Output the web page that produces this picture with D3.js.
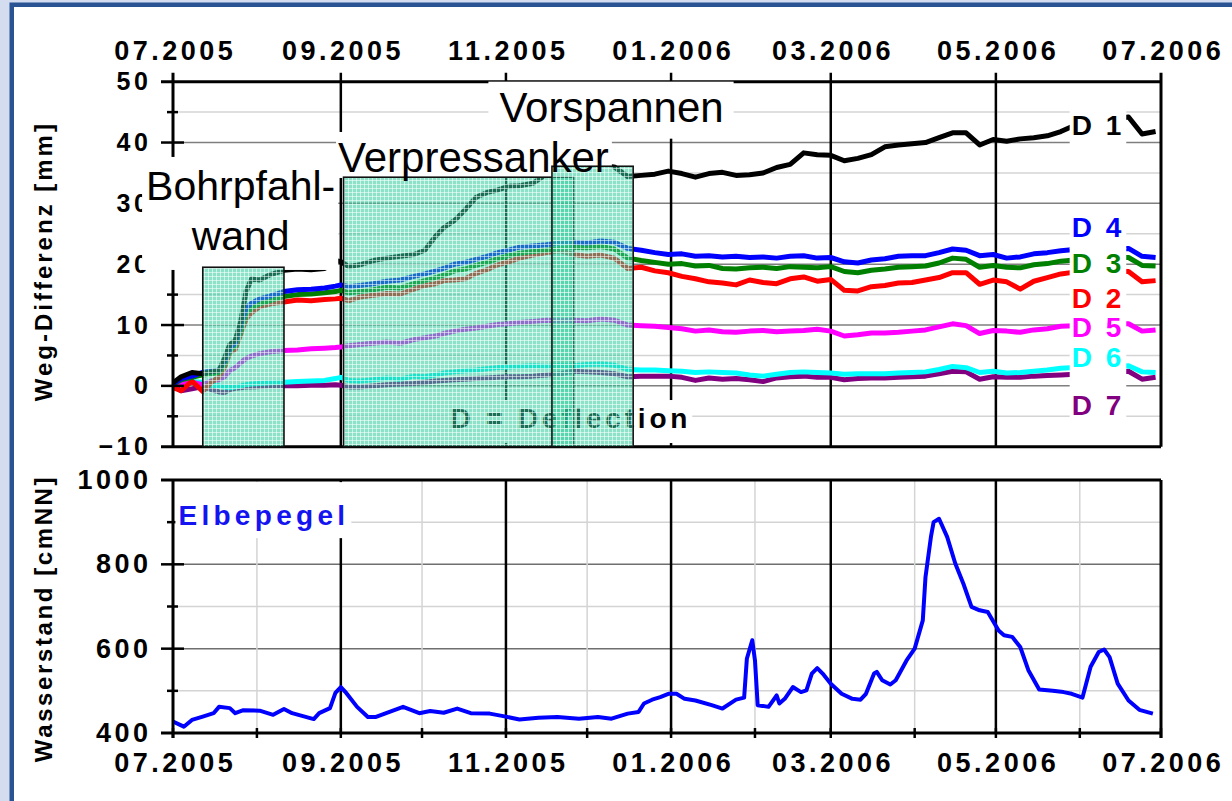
<!DOCTYPE html>
<html>
<head>
<meta charset="utf-8">
<script src="https://cdn.jsdelivr.net/npm/d3@7"></script>
<style>
  body { margin: 0; background: #d3ddef; }
  svg { display: block; }
</style>
</head>
<body>
<svg id="chart" width="1232" height="801"></svg>
<script>
// ---- data ----
const tickLabels = ["07.2005", "09.2005", "11.2005", "01.2006", "03.2006", "05.2006", "07.2006"];

// measurement dates of the deflection series
const messDates = [
  "2005-07-01","2005-07-04","2005-07-08","2005-07-12","2005-07-15","2005-07-18","2005-07-20","2005-07-22","2005-07-24","2005-07-26","2005-07-28","2005-07-30",
  "2005-08-02","2005-08-06","2005-08-11","2005-08-16","2005-08-21","2005-08-26","2005-08-30",
  "2005-09-01","2005-09-04","2005-09-08","2005-09-13","2005-09-18","2005-09-23","2005-09-28",
  "2005-10-02","2005-10-06","2005-10-09","2005-10-13","2005-10-17","2005-10-21","2005-10-25","2005-10-29",
  "2005-11-02","2005-11-06","2005-11-11","2005-11-16","2005-11-21","2005-11-26",
  "2005-12-01","2005-12-06","2005-12-11","2005-12-16","2005-12-21","2005-12-26","2005-12-31",
  "2006-01-05","2006-01-10","2006-01-15","2006-01-20","2006-01-25","2006-01-30",
  "2006-02-04","2006-02-09","2006-02-14","2006-02-19","2006-02-24",
  "2006-03-01","2006-03-06","2006-03-11","2006-03-16","2006-03-21","2006-03-26","2006-03-31",
  "2006-04-05","2006-04-10","2006-04-15","2006-04-20","2006-04-25","2006-04-30",
  "2006-05-05","2006-05-10","2006-05-15","2006-05-20","2006-05-25","2006-05-30",
  "2006-06-04","2006-06-09","2006-06-14","2006-06-19","2006-06-24","2006-06-29"
];

const d1 = [0.5,1.5,2.2,2.0,2.3,2.5,4.5,6.8,7.5,10.5,15.5,17.6,
  17.4,18.3,19.0,19.2,19.1,19.3,20.6,
  20.4,19.6,19.9,20.6,21.0,21.3,21.6,
  22.3,24.6,26.0,27.2,29.0,31.0,31.8,32.2,
  32.8,32.9,33.3,34.8,35.2,35.5,
  35.8,36.2,36.0,34.4,34.6,34.8,35.3,
  34.9,34.3,34.9,35.1,34.6,34.7,
  35.0,35.9,36.4,38.3,38.0,
  37.9,37.0,37.4,38.0,39.3,39.6,39.8,
  40.0,40.8,41.6,41.6,39.6,40.5,
  40.2,40.6,40.8,41.1,41.8,42.8,
  43.2,43.6,43.9,44.2,41.4,41.8];

const d2 = [-0.3,-0.8,0.8,-0.9,0.5,1.5,3.0,5.5,6.0,8.5,11.0,12.0,
  13.0,13.5,13.8,14.1,14.0,14.2,14.3,
  14.4,14.0,14.6,14.9,15.2,15.1,15.9,
  16.5,16.8,17.3,17.4,17.6,18.5,19.1,19.9,
  20.4,21.0,21.5,21.9,22.2,21.6,
  21.3,21.5,21.0,19.3,19.5,18.9,18.6,
  18.0,17.6,17.1,16.9,16.6,17.4,
  17.0,16.8,17.6,17.9,17.2,
  17.5,15.7,15.6,16.3,16.5,16.9,17.0,
  17.4,17.8,18.6,18.6,16.7,17.4,
  17.1,15.9,17.2,17.8,18.4,18.7,
  18.8,18.8,18.9,18.8,17.1,17.3];

const d3v = [0.2,1.0,1.4,1.8,2.0,2.2,3.5,5.8,6.5,9.0,11.8,12.8,
  13.5,14.0,14.7,15.0,15.1,15.3,15.5,
  15.7,15.3,15.5,15.8,16.2,16.1,16.8,
  17.3,17.8,18.2,18.9,19.2,19.8,20.3,20.9,
  21.4,21.8,22.1,22.3,22.6,22.8,
  22.7,22.9,22.5,21.0,20.6,20.3,20.0,
  20.1,19.7,19.8,19.3,19.2,19.4,
  19.5,19.3,19.6,19.5,19.4,
  19.6,18.8,18.6,19.0,19.2,19.5,19.6,
  19.7,20.2,21.0,20.8,19.5,19.8,
  19.5,19.4,19.9,20.1,20.5,20.7,
  20.9,21.0,21.1,21.1,19.8,19.7];

const d4 = [0.3,1.2,1.6,2.2,2.4,2.6,4.0,6.3,7.0,10.0,12.8,13.6,
  14.3,14.8,15.5,15.8,15.9,16.1,16.4,
  16.6,16.3,16.5,16.8,17.2,17.4,18.0,
  18.4,18.9,19.3,20.0,20.3,20.8,21.3,21.9,
  22.3,22.8,23.0,23.2,23.5,23.6,
  23.5,23.8,23.6,22.6,22.3,21.9,21.6,
  21.7,21.3,21.4,21.2,21.3,21.1,
  21.2,21.0,21.3,21.4,21.0,
  21.1,20.4,20.2,20.7,20.9,21.3,21.4,
  21.4,21.9,22.5,22.3,21.4,21.6,
  21.0,21.2,21.7,21.9,22.2,22.4,
  22.5,22.4,22.5,22.6,21.3,21.1];

const d5 = [0.0,0.3,0.6,0.2,0.8,1.0,1.5,2.5,3.0,3.8,4.5,4.9,
  5.3,5.6,5.8,5.9,6.1,6.2,6.3,
  6.4,6.6,6.8,7.0,7.2,7.0,7.6,
  7.9,8.2,8.6,9.0,9.3,9.5,9.8,10.1,
  10.2,10.4,10.6,10.8,10.7,10.8,
  10.7,11.0,10.8,10.0,9.9,9.8,9.6,
  9.4,9.0,9.2,8.9,8.8,9.0,
  9.1,8.9,9.0,9.1,9.3,
  9.0,8.2,8.4,8.7,8.7,8.8,9.0,
  9.2,9.7,10.2,9.9,8.6,9.1,
  9.0,8.8,9.2,9.4,9.8,9.9,
  10.0,10.1,10.2,10.2,9.0,9.2];

const d6 = [0.2,0.9,0.7,0.6,0.1,0.0,-0.2,-0.3,-0.2,0.0,0.2,0.3,
  0.4,0.5,0.6,0.7,0.8,0.9,1.2,
  1.4,0.9,0.8,1.0,1.3,1.1,1.6,
  1.5,1.8,2.1,2.3,2.5,2.6,2.8,3.0,
  3.1,3.2,3.3,3.2,3.4,3.3,
  3.5,3.6,3.4,2.7,2.6,2.6,2.5,
  2.4,2.2,2.3,2.2,2.1,1.8,
  1.6,1.9,2.2,2.3,2.2,
  2.1,1.9,2.0,2.0,2.0,2.1,2.2,
  2.3,2.7,3.2,3.0,2.2,2.4,
  2.1,2.2,2.4,2.6,2.9,3.0,
  3.1,3.1,3.2,3.3,2.3,2.2];

const d7 = [0.0,-0.8,-0.5,-0.1,-0.6,-1.0,-1.1,-0.6,-0.4,-0.3,-0.2,-0.2,
  -0.1,0.0,0.0,0.0,0.1,0.1,0.2,
  0.1,-0.2,-0.2,0.0,0.2,0.3,0.4,
  0.6,0.8,0.9,1.0,1.1,1.2,1.3,1.4,
  1.5,1.5,1.6,1.8,2.0,2.4,
  2.3,2.2,2.0,1.5,1.6,1.6,1.6,
  1.4,0.9,1.3,1.1,1.2,1.0,
  0.7,1.3,1.5,1.6,1.4,
  1.4,1.0,1.2,1.3,1.3,1.4,1.5,
  1.6,2.0,2.4,2.3,1.1,1.5,
  1.4,1.4,1.6,1.7,1.8,1.9,
  2.0,2.1,2.2,2.4,1.1,1.4];

const seriesNames = ["D 7", "D 6", "D 5", "D 2", "D 3", "D 4", "D 1"];
const seriesValues = [d7, d6, d5, d2, d3v, d4, d1];
const seriesColors = ["#800080", "#00ffff", "#ff00ff", "#ff0000", "#008000", "#0000ff", "#000000"];

// legend labels at the right edge (order top to bottom) and the value of their baseline
const legendNames = ["D 1", "D 4", "D 3", "D 2", "D 5", "D 6", "D 7"];
const legendColors = ["#000000", "#0000ff", "#008000", "#ff0000", "#ff00ff", "#00ffff", "#800080"];
const legendLevels = [41.2, 24.5, 18.55, 12.8, 8.0, 3.15, -4.8];

// Elbe water level
const pegelDates = [
  "2005-07-01","2005-07-05","2005-07-08","2005-07-12","2005-07-16","2005-07-18","2005-07-22","2005-07-24","2005-07-27",
  "2005-08-02","2005-08-07","2005-08-11","2005-08-14","2005-08-18","2005-08-22","2005-08-24","2005-08-28","2005-08-30",
  "2005-09-01","2005-09-03","2005-09-07","2005-09-11","2005-09-14","2005-09-19","2005-09-24","2005-09-30",
  "2005-10-04","2005-10-09","2005-10-14","2005-10-19","2005-10-26","2005-10-31",
  "2005-11-06","2005-11-13","2005-11-20","2005-11-28",
  "2005-12-05","2005-12-10","2005-12-16","2005-12-20","2005-12-22","2005-12-25","2005-12-28","2005-12-31",
  "2006-01-03","2006-01-06","2006-01-10","2006-01-16","2006-01-20","2006-01-25","2006-01-28","2006-01-29","2006-01-31",
  "2006-02-01","2006-02-02","2006-02-06","2006-02-09","2006-02-10","2006-02-12","2006-02-15","2006-02-18","2006-02-20","2006-02-22","2006-02-24","2006-02-26",
  "2006-03-01","2006-03-05","2006-03-09","2006-03-12","2006-03-14","2006-03-17","2006-03-18","2006-03-20","2006-03-23","2006-03-25","2006-03-29",
  "2006-04-01","2006-04-04","2006-04-05","2006-04-07","2006-04-08","2006-04-10","2006-04-13","2006-04-16","2006-04-19","2006-04-22","2006-04-25","2006-04-28",
  "2006-05-02","2006-05-04","2006-05-07","2006-05-10","2006-05-13","2006-05-17","2006-05-22","2006-05-26","2006-05-29",
  "2006-06-02","2006-06-05","2006-06-08","2006-06-10","2006-06-12","2006-06-15","2006-06-19","2006-06-23","2006-06-28"
];
const pegel = [
  427,415,431,439,447,462,459,447,454,
  453,443,457,447,440,433,447,459,495,
  509,495,462,438,438,450,462,447,
  452,448,458,447,446,440,
  432,436,438,434,
  438,434,446,450,470,479,485,493,
  493,481,477,466,458,479,484,576,620,
  572,466,462,489,470,481,509,497,501,541,554,541,
  517,493,481,479,493,541,545,525,515,525,572,
  600,667,770,865,900,908,865,802,754,699,691,687,
  643,632,628,604,549,503,500,497,493,
  484,557,592,598,580,517,477,455,446
];

// construction phases (hatched boxes)
const phaseStart = ["2005-07-12", "2005-09-02", "2005-11-18"];
const phaseEnd = ["2005-08-11", "2005-11-26", "2005-12-18"];
const phaseTop = [19.5, 34.3, 36.1];

// ---- setup ----
const W = 1232, H = 801;
const font = "'Liberation Sans', Arial, sans-serif";
const parse = d3.timeParse("%Y-%m-%d");
const parseTick = d3.timeParse("%m.%Y");
const tickDates = tickLabels.map(parseTick);
const monthDates = d3.timeMonth.range(tickDates[0], d3.timeDay.offset(tickDates[tickDates.length - 1], 1));

const svg = d3.select("#chart");

const x = d3.scaleTime().domain([tickDates[0], tickDates[tickDates.length - 1]]).range([173, 1161]);
const yTop = d3.scaleLinear().domain([-10, 50]).range([446.7, 81.7]);
const yBot = d3.scaleLinear().domain([400, 1000]).range([733, 480]);

// frame
svg.append("rect").attr("width", W).attr("height", H).attr("fill", "#d3ddef");
svg.append("rect").attr("x", 9.5).attr("y", 2.5).attr("width", W).attr("height", H).attr("fill", "#2a5394");
svg.append("rect").attr("x", 14).attr("y", 7).attr("width", W).attr("height", H).attr("fill", "#ffffff");

const defs = svg.append("defs");
const pat = defs.append("pattern").attr("id", "hatch")
  .attr("patternUnits", "userSpaceOnUse").attr("width", 4).attr("height", 4);
pat.append("rect").attr("width", 4).attr("height", 4).attr("fill", "#2dc99b").attr("fill-opacity", 0.55);
pat.append("path").attr("d", "M0,0.5H4M0.5,0V4").attr("stroke", "#ffffff").attr("stroke-opacity", 0.55);

defs.append("clipPath").attr("id", "clipTop").append("rect")
  .attr("x", x.range()[0]).attr("y", yTop.range()[1])
  .attr("width", x.range()[1] - x.range()[0]).attr("height", yTop.range()[0] - yTop.range()[1]);
defs.append("clipPath").attr("id", "clipBot").append("rect")
  .attr("x", x.range()[0]).attr("y", yBot.range()[1])
  .attr("width", x.range()[1] - x.range()[0]).attr("height", yBot.range()[0] - yBot.range()[1]);

const gGrid = svg.append("g");
const gLines = svg.append("g");
const gFrame = svg.append("g");
const gAxis = svg.append("g");
const gBoxes = svg.append("g");
const gDefl = svg.append("g");
const gPhases = svg.append("g");
const gText = svg.append("g");

// ---- top panel grid ----
const topLevels = d3.range(-5, 50, 5);
gGrid.selectAll(".hTop").data(topLevels).enter().append("line")
  .attr("x1", x.range()[0]).attr("x2", x.range()[1])
  .attr("y1", d => yTop(d)).attr("y2", d => yTop(d))
  .attr("stroke", d => d % 10 === 0 ? "#7f7f7f" : "#d4d4d4").attr("stroke-width", 1.5);

gGrid.selectAll(".vTop").data(tickDates.slice(1, -1)).enter().append("line")
  .attr("x1", d => x(d)).attr("x2", d => x(d))
  .attr("y1", yTop.range()[1] - 9).attr("y2", yTop.range()[0])
  .attr("stroke", "#000").attr("stroke-width", 2.5);

// ---- bottom panel grid ----
const botLevels = d3.range(500, 1000, 100);
gGrid.selectAll(".hBot").data(botLevels).enter().append("line")
  .attr("x1", x.range()[0]).attr("x2", x.range()[1])
  .attr("y1", d => yBot(d)).attr("y2", d => yBot(d))
  .attr("stroke", d => d % 200 === 0 ? "#6f6f6f" : "#d4d4d4").attr("stroke-width", 1.5);

const minorMonths = monthDates.filter(d => d.getMonth() % 2 === 1);
gGrid.selectAll(".vBotMinor").data(minorMonths).enter().append("line")
  .attr("x1", d => x(d)).attr("x2", d => x(d))
  .attr("y1", yBot.range()[1]).attr("y2", yBot.range()[0])
  .attr("stroke", "#d4d4d4").attr("stroke-width", 1.5);
gGrid.selectAll(".vBot").data(tickDates.slice(1, -1)).enter().append("line")
  .attr("x1", d => x(d)).attr("x2", d => x(d))
  .attr("y1", yBot.range()[1]).attr("y2", yBot.range()[0])
  .attr("stroke", "#000").attr("stroke-width", 2.5);

// ---- lines ----
const dates = messDates.map(parse);
const lineTop = d3.line().x((d, i) => x(dates[i])).y(d => yTop(d));
gLines.append("g").attr("clip-path", "url(#clipTop)")
  .selectAll("path").data(seriesValues).enter().append("path")
  .attr("d", lineTop)
  .attr("fill", "none")
  .attr("stroke", (d, i) => seriesColors[i])
  .attr("stroke-width", 5)
  .attr("stroke-linejoin", "round");

const pDates = pegelDates.map(parse);
const lineBot = d3.line().x((d, i) => x(pDates[i])).y(d => yBot(d));
gLines.append("path").datum(pegel)
  .attr("clip-path", "url(#clipBot)")
  .attr("d", lineBot)
  .attr("fill", "none").attr("stroke", "#0000ff").attr("stroke-width", 4)
  .attr("stroke-linejoin", "round");

// ---- frame lines and ticks ----
function hLine(y, x1, x2, w) {
  gFrame.append("line").attr("x1", x1).attr("x2", x2).attr("y1", y).attr("y2", y)
    .attr("stroke", "#000").attr("stroke-width", w);
}
function vLine(xx, y1, y2, w) {
  gFrame.append("line").attr("x1", xx).attr("x2", xx).attr("y1", y1).attr("y2", y2)
    .attr("stroke", "#000").attr("stroke-width", w);
}
const x0 = x.range()[0], x1 = x.range()[1];
// top panel
hLine(yTop(50), x0 - 12, x1, 3);
hLine(yTop(-10), x0 - 12, x1, 3);
vLine(x0, yTop(50) - 9, yTop(-10), 3);
vLine(x1, yTop(50) - 9, yTop(-10), 3);
d3.range(-5, 50, 5).forEach(v => {
  const big = v % 10 === 0;
  hLine(yTop(v), x0 - (big ? 12 : 6), x0 + (big ? 11 : 5), 2.5);
});
// bottom panel
hLine(yBot(1000), x0 - 12, x1, 3);
hLine(yBot(400), x0 - 12, x1, 3);
vLine(x0, yBot(1000), yBot(400) + 5, 3);
vLine(x1, yBot(1000), yBot(400) + 5, 3);
d3.range(500, 1000, 100).forEach(v => {
  const big = v % 200 === 0;
  hLine(yBot(v), x0 - (big ? 12 : 6), x0 + (big ? 11 : 5), 2.5);
});
monthDates.forEach(d => vLine(x(d), yBot(400) - 5, yBot(400) + 5, 2.5));

// ---- axes labels ----
function styleTicks(g, size, ls, anchorShift) {
  g.select(".domain").remove();
  g.selectAll(".tick line").remove();
  g.attr("font-family", font).attr("font-size", size).attr("font-weight", "bold");
  g.selectAll("text").attr("fill", "#000").style("letter-spacing", ls + "px").attr("dx", anchorShift);
}
const fmt = (d, i) => tickLabels[i];

gAxis.append("g").attr("transform", `translate(0,${yTop(50)})`)
  .call(d3.axisTop(x).tickValues(tickDates).tickFormat(fmt).tickSize(0).tickPadding(21.5))
  .call(g => styleTicks(g, 27, 3.5, 1.75));

gAxis.append("g").attr("transform", `translate(0,${yBot(400)})`)
  .call(d3.axisBottom(x).tickValues(tickDates).tickFormat(fmt).tickSize(0).tickPadding(19.5))
  .call(g => styleTicks(g, 27, 3.5, 1.75));

gAxis.append("g").attr("transform", `translate(${x0},0)`)
  .call(d3.axisLeft(yTop).tickValues(d3.range(-10, 51, 10)).tickFormat(d3.format("d")).tickSize(0).tickPadding(25))
  .call(g => styleTicks(g, 25, 3.6, 3.6));

gAxis.append("g").attr("transform", `translate(${x0},0)`)
  .call(d3.axisLeft(yBot).tickValues(d3.range(400, 1001, 200)).tickFormat(d3.format("d")).tickSize(0).tickPadding(25))
  .call(g => styleTicks(g, 27, 3.5, 3.5));

gAxis.append("text")
  .attr("transform", `translate(52,${(yTop(50) + yTop(-10)) / 2 - 3}) rotate(-90)`)
  .attr("text-anchor", "middle")
  .attr("font-family", font).attr("font-size", 24).attr("font-weight", "bold")
  .style("letter-spacing", "3px")
  .text("Weg-Differenz [mm]");

gAxis.append("text")
  .attr("transform", `translate(52,${(yBot(1000) + yBot(400)) / 2 + 12}) rotate(-90)`)
  .attr("text-anchor", "middle")
  .attr("font-family", font).attr("font-size", 24).attr("font-weight", "bold")
  .style("letter-spacing", "2.6px")
  .text("Wasserstand [cmNN]");

// ---- annotations with white backgrounds ----
function boxFor(node, pad) {
  const b = node.getBBox();
  gBoxes.append("rect")
    .attr("x", b.x - pad[0]).attr("y", b.y - pad[1])
    .attr("width", b.width + pad[0] + pad[2]).attr("height", b.height + pad[1] + pad[3])
    .attr("fill", "#ffffff");
}

// D = Deflection (under the hatched boxes)
const defl = gDefl.append("text")
  .attr("x", x(parse("2005-11-25"))).attr("y", yTop(-6.93))
  .attr("text-anchor", "middle")
  .attr("font-family", font).attr("font-size", 28).attr("font-weight", "bold")
  .style("letter-spacing", "3.8px")
  .text("D = Deflection");
boxFor(defl.node(), [3, 3, 1, 9]);

// hatched phase boxes
gPhases.selectAll("rect").data(phaseStart).enter().append("rect")
  .attr("x", (d, i) => x(parse(phaseStart[i])))
  .attr("y", (d, i) => yTop(phaseTop[i]))
  .attr("width", (d, i) => x(parse(phaseEnd[i])) - x(parse(phaseStart[i])))
  .attr("height", (d, i) => yTop(-10) - yTop(phaseTop[i]))
  .attr("fill", "url(#hatch)")
  .attr("stroke", "#111").attr("stroke-width", 1.6);

function bigText(str, date, val, size) {
  return gText.append("text")
    .attr("x", x(parse(date))).attr("y", yTop(val))
    .attr("text-anchor", "middle")
    .attr("font-family", font).attr("font-size", size)
    .attr("fill", "#000")
    .text(str);
}
const tVor = bigText("Vorspannen", "2005-12-10", 43.43, 42);
boxFor(tVor.node(), [11, 2, 10, 8]);
const tVer = bigText("Verpressanker", "2005-10-20", 35.16, 42);
boxFor(tVer.node(), [2, 2, 3, -3]);
const tB1 = bigText("Bohrpfahl-", "2005-07-26", 30.56, 41);
const tB2 = bigText("wand", "2005-07-26", 22.34, 41);
{
  const a = tB1.node().getBBox(), b = tB2.node().getBBox();
  const left = Math.min(a.x, b.x) - 4, right = Math.max(a.x + a.width, b.x + b.width) + 3;
  const top = a.y - 6, bottom = b.y + b.height + 11;
  gBoxes.append("rect").attr("x", left).attr("y", top)
    .attr("width", right - left).attr("height", bottom - top)
    .attr("fill", "#ffffff");
}

// series labels on the right
const legendPads = [[2, 0, 2, 4], [2, 0, 2, 6], [2, 0, 2, 4], [2, 0, 2, 2], [2, 0, 2, 2], [2, 0, 2, 6], [2, 13, 2, 0]];
legendNames.forEach((name, i) => {
  const t = gText.append("text")
    .attr("x", x(parse("2006-05-29"))).attr("y", yTop(legendLevels[i]))
    .attr("font-family", font).attr("font-size", 28).attr("font-weight", "bold")
    .attr("fill", legendColors[i])
    .style("letter-spacing", "3px")
    .text(name);
  boxFor(t.node(), legendPads[i]);
});

// Elbepegel
const tElbe = gText.append("text")
  .attr("x", x(parse("2005-07-03"))).attr("y", yBot(893))
  .attr("font-family", font).attr("font-size", 28).attr("font-weight", "bold")
  .attr("fill", "#1414f0")
  .style("letter-spacing", "4.3px")
  .text("Elbepegel");
boxFor(tElbe.node(), [3, 18, 2, 7]);
</script>
</body>
</html>
